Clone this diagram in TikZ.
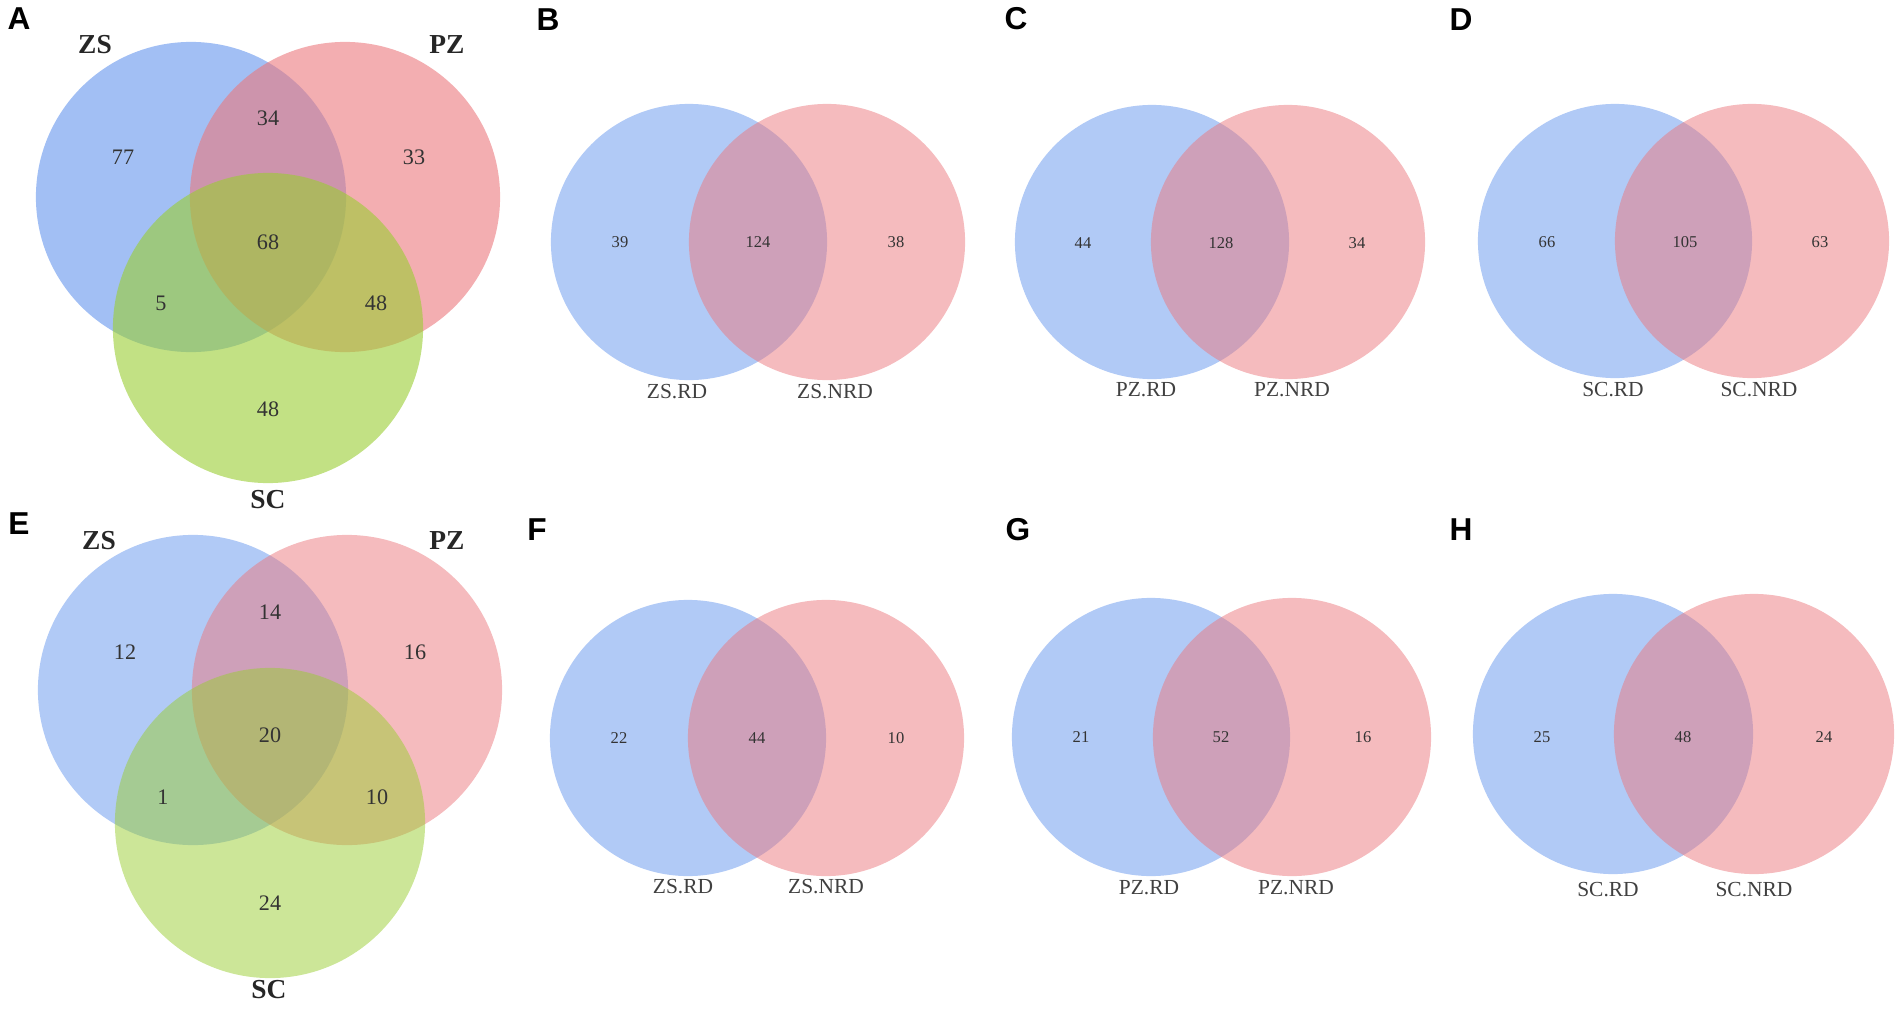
\documentclass[tikz,border=0pt]{standalone}
\usepackage{fontspec}
\setmainfont{Liberation Serif}
\newfontfamily\tagfont{Liberation Sans}
\definecolor{vblue}{RGB}{100,149,237}
\definecolor{vpink}{RGB}{235,120,125}
\definecolor{vgreen}{RGB}{154,205,50}
\tikzset{
  paneltag/.style={font=\tagfont\bfseries\fontsize{9}{10}\selectfont},
  setlbl/.style={font=\bfseries\fontsize{7.8}{9}\selectfont, text=black!85},
  num/.style={font=\fontsize{6.3}{8}\selectfont, text=black!80},
  smallnum/.style={font=\fontsize{4.7}{6}\selectfont, text=black!80},
  pairlbl/.style={font=\fontsize{6.1}{7}\selectfont, text=black!75},
}
\begin{document}
\begin{tikzpicture}[x=0.01cm,y=-0.01cm]
\useasboundingbox (0,0) rectangle (1902,1009);
% panel letters
\node[paneltag] (tagA) at (19,19) {A};
\node[paneltag] (tagB) at (548,20) {B};
\node[paneltag] (tagC) at (1016,19) {C};
\node[paneltag] (tagD) at (1461,20) {D};
\node[paneltag] (tagE) at (19,524) {E};
\node[paneltag] (tagF) at (537,530) {F};
\node[paneltag] (tagG) at (1018,530) {G};
\node[paneltag] (tagH) at (1461,530) {H};
% (A)
\begin{scope}
\begin{scope}[fill opacity=0.6]
\fill[vblue] (191,197) circle[radius=1.55cm];
\fill[vpink] (345,197) circle[radius=1.55cm];
\fill[vgreen] (268,328) circle[radius=1.55cm];
\end{scope}
\node[setlbl] (aZS) at (95,45) {ZS};
\node[setlbl] (aPZ) at (447,45) {PZ};
\node[setlbl] (aSC) at (268,500) {SC};
\node[num] (a1) at (123,157) {77};
\node[num] (a2) at (268,118) {34};
\node[num] (a3) at (414,157) {33};
\node[num] (a4) at (268,242) {68};
\node[num] (a5) at (161,303) {5};
\node[num] (a6) at (376,303) {48};
\node[num] (a7) at (268,409) {48};
\end{scope}
% (E)
\begin{scope}[shift={(2,493)}]
\begin{scope}[fill opacity=0.5]
\fill[vblue] (191,197) circle[radius=1.55cm];
\fill[vpink] (345,197) circle[radius=1.55cm];
\fill[vgreen] (268,330) circle[radius=1.55cm];
\end{scope}
\node[setlbl] (eZS) at (97,48) {ZS};
\node[setlbl] (ePZ) at (445,48) {PZ};
\node[setlbl] (eSC) at (267,497) {SC};
\node[num] (e1) at (123,159) {12};
\node[num] (e2) at (268,119) {14};
\node[num] (e3) at (413,159) {16};
\node[num] (e4) at (268,242) {20};
\node[num] (e5) at (161,304) {1};
\node[num] (e6) at (375,304) {10};
\node[num] (e7) at (268,410) {24};
\end{scope}
% (B)
\begin{scope}[shift={(689,242)}]
\begin{scope}[fill opacity=0.5]
\fill[vblue] (0,0) circle[radius=1.38cm];
\fill[vpink] (138,0) circle[radius=1.38cm];
\end{scope}
\node[smallnum] (b1) at (-69,0) {39};
\node[smallnum] (b2) at (69,0) {124};
\node[smallnum] (b3) at (207,0) {38};
\node[pairlbl] (bRD) at (-12,150) {ZS.RD};
\node[pairlbl] (bNRD) at (146,150) {ZS.NRD};
\end{scope}
% (C)
\begin{scope}[shift={(1152,242)}]
\begin{scope}[fill opacity=0.5]
\fill[vblue] (0,0) circle[radius=1.37cm];
\fill[vpink] (136,0) circle[radius=1.37cm];
\end{scope}
\node[smallnum] (c1) at (-69,1) {44};
\node[smallnum] (c2) at (69,1) {128};
\node[smallnum] (c3) at (205,1) {34};
\node[pairlbl] (cRD) at (-6,148) {PZ.RD};
\node[pairlbl] (cNRD) at (140,148) {PZ.NRD};
\end{scope}
% (D)
\begin{scope}[shift={(1615,241)}]
\begin{scope}[fill opacity=0.5]
\fill[vblue] (0,0) circle[radius=1.37cm];
\fill[vpink] (137,0) circle[radius=1.37cm];
\end{scope}
\node[smallnum] (d1) at (-68,1) {66};
\node[smallnum] (d2) at (70,1) {105};
\node[smallnum] (d3) at (205,1) {63};
\node[pairlbl] (dRD) at (-2,149) {SC.RD};
\node[pairlbl] (dNRD) at (144,149) {SC.NRD};
\end{scope}
% (F)
\begin{scope}[shift={(688,738)}]
\begin{scope}[fill opacity=0.5]
\fill[vblue] (0,0) circle[radius=1.38cm];
\fill[vpink] (138,0) circle[radius=1.38cm];
\end{scope}
\node[smallnum] (f1) at (-69,0) {22};
\node[smallnum] (f2) at (69,0) {44};
\node[smallnum] (f3) at (208,0) {10};
\node[pairlbl] (fRD) at (-5,149) {ZS.RD};
\node[pairlbl] (fNRD) at (138,149) {ZS.NRD};
\end{scope}
% (G)
\begin{scope}[shift={(1151,737)}]
\begin{scope}[fill opacity=0.5]
\fill[vblue] (0,0) circle[radius=1.39cm];
\fill[vpink] (141,0) circle[radius=1.39cm];
\end{scope}
\node[smallnum] (g1) at (-70,0) {21};
\node[smallnum] (g2) at (70,0) {52};
\node[smallnum] (g3) at (212,0) {16};
\node[pairlbl] (gRD) at (-2,151) {PZ.RD};
\node[pairlbl] (gNRD) at (145,151) {PZ.NRD};
\end{scope}
% (H)
\begin{scope}[shift={(1613,734)}]
\begin{scope}[fill opacity=0.5]
\fill[vblue] (0,0) circle[radius=1.40cm];
\fill[vpink] (141,0) circle[radius=1.40cm];
\end{scope}
\node[smallnum] (h1) at (-71,3) {25};
\node[smallnum] (h2) at (70,3) {48};
\node[smallnum] (h3) at (211,3) {24};
\node[pairlbl] (hRD) at (-5,156) {SC.RD};
\node[pairlbl] (hNRD) at (141,156) {SC.NRD};
\end{scope}
\end{tikzpicture}
\end{document}
